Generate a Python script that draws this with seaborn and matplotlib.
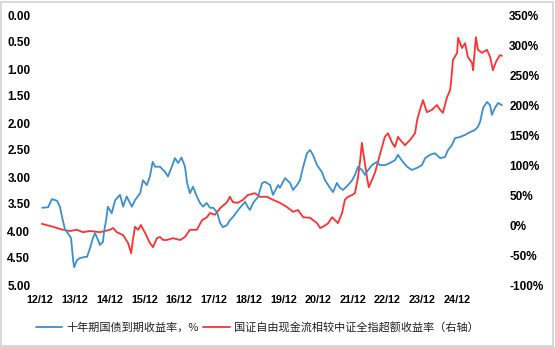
import numpy as np
import pandas as pd
import seaborn as sns
import matplotlib
matplotlib.use("Agg")
import matplotlib.pyplot as plt
from matplotlib.lines import Line2D
from matplotlib.patches import Rectangle

# ---- data (decimal year, value) ----
yield_t = [2012.98, 2013.15, 2013.26, 2013.41, 2013.49, 2013.55, 2013.64, 2013.72, 2013.81, 2013.87,
           2013.90, 2013.98, 2014.07, 2014.21, 2014.27, 2014.36, 2014.44, 2014.50, 2014.59, 2014.64,
           2014.73, 2014.76, 2014.82, 2014.87, 2014.98, 2015.08, 2015.22, 2015.31, 2015.41, 2015.56,
           2015.65, 2015.80, 2015.88, 2015.99, 2016.08, 2016.16, 2016.23, 2016.37, 2016.51, 2016.60,
           2016.71, 2016.80, 2016.89, 2016.99, 2017.09, 2017.15, 2017.23, 2017.32, 2017.43, 2017.52,
           2017.61, 2017.71, 2017.81, 2017.90, 2018.01, 2018.10, 2018.18, 2018.30, 2018.38, 2018.47,
           2018.67, 2018.82, 2018.90, 2018.96, 2019.05, 2019.19, 2019.31, 2019.39, 2019.54, 2019.62,
           2019.77, 2019.82, 2019.97, 2020.11, 2020.20, 2020.31, 2020.40, 2020.49, 2020.60, 2020.69,
           2020.77, 2020.89, 2021.03, 2021.12, 2021.26, 2021.35, 2021.46, 2021.55, 2021.64, 2021.78,
           2021.90, 2021.98, 2022.07, 2022.18, 2022.27, 2022.36, 2022.47, 2022.61, 2022.70, 2022.84,
           2022.99, 2023.13, 2023.22, 2023.28, 2023.36, 2023.48, 2023.62, 2023.77, 2023.91, 2024.00,
           2024.14, 2024.28, 2024.43, 2024.57, 2024.66, 2024.77, 2024.86, 2025.00, 2025.15, 2025.29,
           2025.43, 2025.52, 2025.58, 2025.67, 2025.78, 2025.87, 2025.92, 2026.01, 2026.10, 2026.21]
yield_v = [3.57, 3.56, 3.41, 3.44, 3.55, 3.74, 3.98, 4.04, 4.13, 4.54,
           4.67, 4.54, 4.50, 4.48, 4.48, 4.31, 4.13, 4.04, 4.17, 4.26,
           4.20, 4.01, 3.80, 3.55, 3.67, 3.43, 3.33, 3.55, 3.36, 3.55,
           3.43, 3.30, 3.06, 3.15, 2.99, 2.72, 2.81, 2.81, 2.90, 2.99,
           2.81, 2.65, 2.74, 2.64, 2.81, 3.11, 3.30, 3.18, 3.36, 3.48,
           3.55, 3.48, 3.57, 3.57, 3.65, 3.85, 3.93, 3.89, 3.80, 3.74,
           3.57, 3.46, 3.56, 3.61, 3.48, 3.37, 3.11, 3.09, 3.15, 3.33,
           3.15, 3.20, 3.02, 3.11, 3.24, 3.15, 3.06, 2.81, 2.56, 2.50,
           2.59, 2.78, 2.91, 3.06, 3.20, 3.28, 3.11, 3.20, 3.24, 3.15,
           3.06, 2.96, 2.81, 2.87, 2.96, 2.87, 2.78, 2.72, 2.78, 2.78,
           2.74, 2.69, 2.59, 2.65, 2.72, 2.81, 2.87, 2.83, 2.78, 2.65,
           2.59, 2.56, 2.65, 2.63, 2.50, 2.41, 2.28, 2.26, 2.22, 2.17,
           2.13, 2.07, 1.98, 1.72, 1.61, 1.67, 1.85, 1.72, 1.63, 1.67]

excess_t = [2012.97, 2013.29, 2013.58, 2013.78, 2013.98, 2014.15, 2014.36, 2014.64, 2014.79, 2014.93,
            2015.02, 2015.13, 2015.31, 2015.45, 2015.54, 2015.59, 2015.65, 2015.74, 2015.82, 2015.94,
            2016.08, 2016.17, 2016.28, 2016.37, 2016.46, 2016.57, 2016.74, 2016.95, 2017.09, 2017.23,
            2017.43, 2017.58, 2017.72, 2017.81, 2017.95, 2018.10, 2018.30, 2018.38, 2018.47, 2018.61,
            2018.76, 2018.90, 2019.10, 2019.25, 2019.45, 2019.62, 2019.82, 2020.02, 2020.20, 2020.34,
            2020.49, 2020.69, 2020.89, 2020.98, 2021.06, 2021.21, 2021.32, 2021.41, 2021.49, 2021.61,
            2021.69, 2021.78, 2021.90, 2021.98, 2022.07, 2022.13, 2022.18, 2022.24, 2022.33, 2022.38,
            2022.47, 2022.56, 2022.64, 2022.76, 2022.84, 2022.93, 2023.05, 2023.13, 2023.22, 2023.28,
            2023.42, 2023.57, 2023.71, 2023.77, 2023.85, 2023.94, 2024.05, 2024.20, 2024.34, 2024.43,
            2024.51, 2024.63, 2024.72, 2024.77, 2024.80, 2024.92, 2024.95, 2025.06, 2025.15, 2025.23,
            2025.35, 2025.38, 2025.46, 2025.52, 2025.64, 2025.78, 2025.87, 2025.95, 2026.04, 2026.15,
            2026.21]
excess_v = [2, -3, -8, -10, -8, -12, -10, -12, -10, -8,
            -5, -12, -17, -30, -47, -25, -3, -8, 0, -13,
            -30, -37, -22, -20, -25, -25, -22, -25, -20, -8,
            -8, 8, 13, 20, 17, 28, 38, 47, 38, 37,
            42, 50, 53, 47, 47, 42, 37, 30, 22, 25,
            13, 12, 3, -5, -3, 3, 13, 8, 3, 20,
            42, 47, 50, 53, 80, 108, 137, 113, 78, 63,
            75, 88, 105, 130, 147, 153, 137, 130, 147, 142,
            133, 142, 153, 175, 192, 208, 188, 192, 200, 192,
            187, 213, 225, 253, 275, 287, 312, 295, 303, 280,
            270, 258, 313, 292, 287, 292, 280, 258, 272, 283,
            282]

left_ticks = [0.0, 0.5, 1.0, 1.5, 2.0, 2.5, 3.0, 3.5, 4.0, 4.5, 5.0]
right_ticks = [-100, -50, 0, 50, 100, 150, 200, 250, 300, 350]
x_tick_labels = ["12/12", "13/12", "14/12", "15/12", "16/12", "17/12", "18/12",
                 "19/12", "20/12", "21/12", "22/12", "23/12", "24/12"]
series_names = ["十年期国债到期收益率，%", "国证自由现金流相较中证全指超额收益率（右轴）"]

BLUE = "#3a8fd3"
RED = "#ff3030"

sns.set_theme(style="white")
plt.rcParams["font.family"] = ["Liberation Sans", "Noto Sans CJK SC", "DejaVu Sans"]

df1 = pd.DataFrame({"t": yield_t, "v": yield_v})
df2 = pd.DataFrame({"t": excess_t, "v": excess_v})

fig = plt.figure(figsize=(5.55, 3.47), dpi=100)
W, H = 555, 347
ax = fig.add_axes([40 / W, (H - 285) / H, 465 / W, 270 / H])
ax2 = ax.twinx()

sns.lineplot(data=df1, x="t", y="v", ax=ax, color=BLUE, linewidth=1.3, legend=False)
sns.lineplot(data=df2, x="t", y="v", ax=ax2, color=RED, linewidth=1.3, legend=False)
ax.set_zorder(ax2.get_zorder() + 1)
ax.patch.set_visible(False)

x0 = 2012.917
ax.set_xlim(x0, x0 + 465 / 34.75)
ax.set_ylim(5.0, 0.0)
ax2.set_ylim(-100, 350)

xticks = [x0 + i for i in range(len(x_tick_labels))]
ax.set_xticks(xticks)
ax.set_xticklabels(x_tick_labels, fontsize=7.8, fontweight="bold", color="black")
ax.set_yticks(left_ticks)
ax.set_yticklabels([f"{v:.2f}" for v in left_ticks], fontsize=8.5, fontweight="bold", color="black")
ax2.set_yticks(right_ticks)
ax2.set_yticklabels([f"{v}%" for v in right_ticks], fontsize=8.5, fontweight="bold", color="black")

for a in (ax, ax2):
    a.set_xlabel("")
    a.set_ylabel("")
    a.tick_params(length=0)
    for s in a.spines.values():
        s.set_visible(False)
ax.tick_params(axis="x", pad=7)
ax.tick_params(axis="y", pad=7)
ax2.tick_params(axis="y", pad=3)

handles = [Line2D([], [], color=BLUE, linewidth=1.3), Line2D([], [], color=RED, linewidth=1.3)]
fig.legend(handles, series_names, loc="center", bbox_to_anchor=(0.463, (H - 327) / H), ncol=2,
           frameon=False, handlelength=2.4, handletextpad=0.35, columnspacing=0.4,
           prop={"family": ["Noto Sans CJK SC", "DejaVu Sans"], "size": 8}, labelcolor="#222222")

fig.patches.append(Rectangle((0.5 / W, 1.5 / H), (W - 2.5) / W, (H - 3) / H, transform=fig.transFigure,
                             fill=False, edgecolor="#d9d9d9", linewidth=1.5))

fig.savefig("out.png", dpi=100)
